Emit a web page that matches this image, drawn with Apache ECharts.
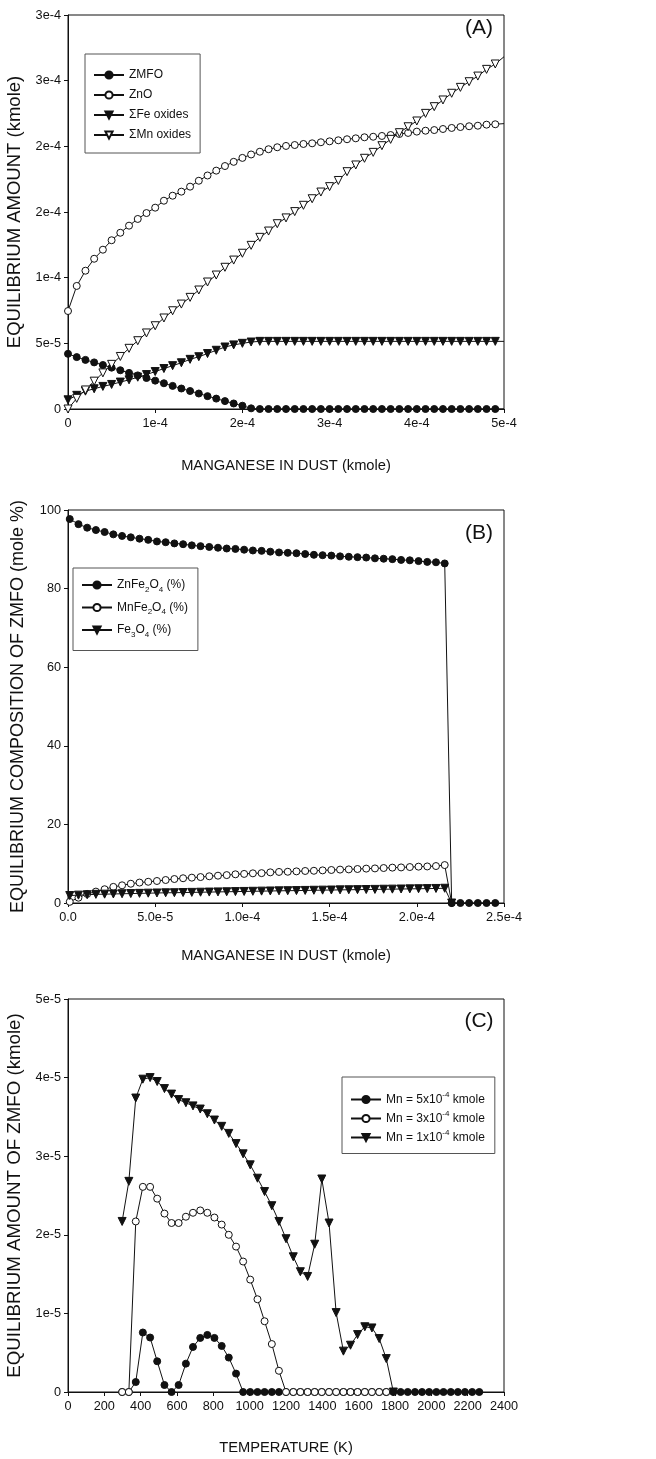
<!DOCTYPE html>
<html>
<head>
<meta charset="utf-8">
<script src="https://cdn.jsdelivr.net/npm/echarts@6/dist/echarts.min.js"></script>
<style>
html,body{margin:0;padding:0;background:#fff;}
#chart{width:656px;height:1459px;}
</style>
</head>
<body>
<div id="chart"></div>
<script>
// ---------- Panel A: equilibrium amounts vs Mn in dust ----------
const xA = [0,1e-5,2e-5,3e-5,4e-5,5e-5,6e-5,7e-5,8e-5,9e-5,1.0e-4,1.1e-4,1.2e-4,1.3e-4,1.4e-4,1.5e-4,1.6e-4,1.7e-4,1.8e-4,1.9e-4,2.0e-4,2.1e-4,2.2e-4,2.3e-4,2.4e-4,2.5e-4,2.6e-4,2.7e-4,2.8e-4,2.9e-4,3.0e-4,3.1e-4,3.2e-4,3.3e-4,3.4e-4,3.5e-4,3.6e-4,3.7e-4,3.8e-4,3.9e-4,4.0e-4,4.1e-4,4.2e-4,4.3e-4,4.4e-4,4.5e-4,4.6e-4,4.7e-4,4.8e-4,4.9e-4,5.0e-4];
const zmfoA = [4.2e-5,3.95e-5,3.74e-5,3.55e-5,3.35e-5,3.15e-5,2.95e-5,2.75e-5,2.56e-5,2.36e-5,2.16e-5,1.96e-5,1.76e-5,1.56e-5,1.37e-5,1.18e-5,9.8e-6,7.9e-6,6.0e-6,4.2e-6,2.5e-6,5e-7,0,0,0,0,0,0,0,0,0,0,0,0,0,0,0,0,0,0,0,0,0,0,0,0,0,0,0,0,0];
const znoA = [7.46e-5,9.37e-5,1.053e-4,1.144e-4,1.213e-4,1.285e-4,1.342e-4,1.396e-4,1.447e-4,1.492e-4,1.533e-4,1.586e-4,1.624e-4,1.655e-4,1.693e-4,1.738e-4,1.778e-4,1.815e-4,1.85e-4,1.882e-4,1.912e-4,1.938e-4,1.959e-4,1.978e-4,1.993e-4,2.003e-4,2.01e-4,2.018e-4,2.023e-4,2.031e-4,2.038e-4,2.046e-4,2.054e-4,2.061e-4,2.069e-4,2.073e-4,2.079e-4,2.086e-4,2.094e-4,2.102e-4,2.112e-4,2.119e-4,2.124e-4,2.132e-4,2.14e-4,2.147e-4,2.153e-4,2.157e-4,2.165e-4,2.168e-4,2.173e-4];
const feOxA = [7e-6,1.04e-5,1.36e-5,1.54e-5,1.72e-5,1.87e-5,2.05e-5,2.22e-5,2.42e-5,2.62e-5,2.85e-5,3.08e-5,3.3e-5,3.52e-5,3.78e-5,3.98e-5,4.22e-5,4.47e-5,4.72e-5,4.88e-5,5.0e-5,5.1e-5,5.15e-5,5.15e-5,5.15e-5,5.15e-5,5.15e-5,5.15e-5,5.15e-5,5.15e-5,5.15e-5,5.15e-5,5.15e-5,5.15e-5,5.15e-5,5.15e-5,5.15e-5,5.15e-5,5.15e-5,5.15e-5,5.15e-5,5.15e-5,5.15e-5,5.15e-5,5.15e-5,5.15e-5,5.15e-5,5.15e-5,5.15e-5,5.15e-5,5.15e-5];
const mnOxA = [0,8.1e-6,1.45e-5,2.12e-5,2.75e-5,3.4e-5,4.0e-5,4.62e-5,5.2e-5,5.79e-5,6.34e-5,6.93e-5,7.48e-5,7.99e-5,8.5e-5,9.06e-5,9.67e-5,1.02e-4,1.079e-4,1.134e-4,1.186e-4,1.246e-4,1.307e-4,1.355e-4,1.411e-4,1.455e-4,1.503e-4,1.551e-4,1.601e-4,1.652e-4,1.693e-4,1.74e-4,1.807e-4,1.858e-4,1.909e-4,1.954e-4,2.005e-4,2.053e-4,2.104e-4,2.149e-4,2.193e-4,2.251e-4,2.302e-4,2.353e-4,2.404e-4,2.449e-4,2.492e-4,2.535e-4,2.586e-4,2.627e-4,2.682e-4];
const xTickA = ['0','1e-4','2e-4','3e-4','4e-4','5e-4'];
const yTickA = ['0','5e-5','1e-4','2e-4','2e-4','3e-4','3e-4'];

// ---------- Panel B: composition of ZMFO ----------
const xB = [1e-6,6e-6,1.1e-5,1.6e-5,2.1e-5,2.6e-5,3.1e-5,3.6e-5,4.1e-5,4.6e-5,5.1e-5,5.6e-5,6.1e-5,6.6e-5,7.1e-5,7.6e-5,8.1e-5,8.6e-5,9.1e-5,9.6e-5,1.01e-4,1.06e-4,1.11e-4,1.16e-4,1.21e-4,1.26e-4,1.31e-4,1.36e-4,1.41e-4,1.46e-4,1.51e-4,1.56e-4,1.61e-4,1.66e-4,1.71e-4,1.76e-4,1.81e-4,1.86e-4,1.91e-4,1.96e-4,2.01e-4,2.06e-4,2.11e-4,2.16e-4,2.2e-4,2.25e-4,2.3e-4,2.35e-4,2.4e-4,2.45e-4];
const znFeB = [97.7,96.4,95.5,94.9,94.4,93.8,93.4,93.05,92.7,92.4,92.0,91.8,91.5,91.3,91.0,90.8,90.6,90.4,90.2,90.1,89.9,89.7,89.6,89.4,89.2,89.1,89.0,88.8,88.6,88.5,88.4,88.2,88.1,88.0,87.9,87.7,87.6,87.5,87.3,87.2,87.0,86.8,86.7,86.4,0,0,0,0,0,0];
const mnFeB = [0.3,1.35,2.3,2.9,3.5,4.1,4.5,4.9,5.2,5.4,5.6,5.85,6.1,6.3,6.45,6.6,6.8,6.95,7.1,7.3,7.4,7.55,7.6,7.8,7.9,7.95,8.05,8.15,8.2,8.3,8.4,8.5,8.55,8.65,8.75,8.8,8.9,9.0,9.05,9.15,9.25,9.3,9.4,9.65,0];
const fe3o4B = [1.9,2.0,2.1,2.2,2.25,2.3,2.35,2.4,2.45,2.5,2.55,2.6,2.62,2.66,2.7,2.74,2.78,2.82,2.86,2.9,2.94,2.98,3.02,3.06,3.1,3.13,3.16,3.2,3.24,3.27,3.3,3.34,3.37,3.4,3.43,3.46,3.5,3.53,3.56,3.6,3.63,3.66,3.7,3.75,0];
const xTickB = ['0.0','5.0e-5','1.0e-4','1.5e-4','2.0e-4','2.5e-4'];

// ---------- Panel C: ZMFO vs temperature ----------
const tempK = [298,335,373,412,452,491,531,570,609,649,688,728,767,806,846,885,925,964,1003,1043,1082,1122,1161,1200,1240,1279,1319,1358,1397,1437,1476,1516,1555,1594,1634,1673,1713,1752,1791,1831,1870,1910,1949,1988,2028,2067,2107,2146,2185,2225,2264];
const mn5C = [0,0,1.27e-6,7.57e-6,6.93e-6,3.91e-6,8.9e-7,0,8.9e-7,3.61e-6,5.73e-6,6.88e-6,7.26e-6,6.88e-6,5.86e-6,4.38e-6,2.34e-6,0,0,0,0,0,0,0,0,0,0,0,0,0,0,0,0,0,0,0,0,0,0,0,0,0,0,0,0,0,0,0,0,0,0];
const mn3C = [0,0,2.17e-5,2.61e-5,2.61e-5,2.46e-5,2.27e-5,2.15e-5,2.15e-5,2.23e-5,2.28e-5,2.31e-5,2.28e-5,2.22e-5,2.13e-5,2.0e-5,1.85e-5,1.66e-5,1.43e-5,1.18e-5,9.0e-6,6.1e-6,2.7e-6,0,0,0,0,0,0,0,0,0,0,0,0,0,0,0];
const mn1C = [2.17e-5,2.68e-5,3.74e-5,3.98e-5,4.0e-5,3.95e-5,3.86e-5,3.79e-5,3.72e-5,3.68e-5,3.64e-5,3.6e-5,3.54e-5,3.46e-5,3.38e-5,3.29e-5,3.16e-5,3.03e-5,2.89e-5,2.72e-5,2.55e-5,2.37e-5,2.17e-5,1.95e-5,1.72e-5,1.53e-5,1.47e-5,1.88e-5,2.71e-5,2.15e-5,1.01e-5,5.2e-6,5.95e-6,7.3e-6,8.3e-6,8.15e-6,6.8e-6,4.25e-6,0];
const yTickC = ['0','1e-5','2e-5','3e-5','4e-5','5e-5'];

// ---------- styling ----------
const FONT = "'Liberation Sans',Arial,Helvetica,sans-serif";
const BLACK = '#111';

function pairs(xs, ys, xmax){
  return ys.map((y,i)=> xs[i] >= xmax ? {value:[xs[i], y], symbolSize:0} : [xs[i], y]);
}

function lineSeries(name, xi, yi, xs, ys, kind, xmax, extra){
  const filled = kind === 'filledCircle' || kind === 'filledTri';
  const tri = kind === 'filledTri' || kind === 'openTri';
  return Object.assign({
    name, type:'line', xAxisIndex:xi, yAxisIndex:yi,
    data: pairs(xs, ys, xmax),
    symbol: tri ? 'triangle' : 'circle',
    symbolRotate: tri ? 180 : 0,
    symbolSize: tri ? 8 : 7,
    showAllSymbol: true,
    lineStyle:{color:BLACK, width:1},
    itemStyle:{color: filled ? BLACK : '#fff', borderColor:BLACK, borderWidth:1},
    emphasis:{disabled:true},
    clip:true
  }, extra||{});
}

function xAxisCfg(gi, min, max, interval, fmt, name, gap){
  return {
    gridIndex:gi, type:'value', min, max, interval,
    name, nameLocation:'middle', nameGap:gap,
    nameTextStyle:{fontFamily:FONT, fontSize:14.7, color:BLACK},
    axisLine:{show:true, onZero:false, lineStyle:{color:BLACK, width:1}},
    axisTick:{show:true, inside:false, length:4, lineStyle:{color:BLACK}},
    axisLabel:{fontFamily:FONT, fontSize:12.7, color:BLACK, margin:8, formatter:fmt},
    splitLine:{show:false}
  };
}
function yAxisCfg(gi, min, max, interval, fmt, name, gap, nsize){
  return {
    gridIndex:gi, type:'value', min, max, interval,
    name, nameLocation:'middle', nameGap:gap,
    nameTextStyle:{fontFamily:FONT, fontSize:nsize, color:BLACK},
    axisLine:{show:true, onZero:false, lineStyle:{color:BLACK, width:1}},
    axisTick:{show:true, inside:false, length:4, lineStyle:{color:BLACK}},
    axisLabel:{fontFamily:FONT, fontSize:12.7, color:BLACK, margin:7, formatter:fmt},
    splitLine:{show:false}
  };
}

const legendBase = {
  orient:'vertical', itemWidth:30, itemHeight:9,
  borderColor:'#555', borderWidth:1, backgroundColor:'#fff',
  selectedMode:false,
  textStyle:{fontFamily:FONT, fontSize:12, color:BLACK, lineHeight:14}
};

const richSub = {
  n:{fontFamily:FONT, fontSize:12, color:BLACK, lineHeight:17, verticalAlign:'middle'},
  s:{fontFamily:FONT, fontSize:8, color:BLACK, lineHeight:17, verticalAlign:'bottom'},
  u:{fontFamily:FONT, fontSize:8, color:BLACK, lineHeight:17, verticalAlign:'top'}
};
const legendLabelsB = {
  'ZnFe2O4 (%)':'{n|ZnFe}{s|2}{n|O}{s|4}{n| (%)}',
  'MnFe2O4 (%)':'{n|MnFe}{s|2}{n|O}{s|4}{n| (%)}',
  'Fe3O4 (%)':'{n|Fe}{s|3}{n|O}{s|4}{n| (%)}'
};
const legendLabelsC = {
  'Mn = 5x10-4 kmole':'{n|Mn = 5x10}{u|-4}{n| kmole}',
  'Mn = 3x10-4 kmole':'{n|Mn = 3x10}{u|-4}{n| kmole}',
  'Mn = 1x10-4 kmole':'{n|Mn = 1x10}{u|-4}{n| kmole}'
};

const gridBase = {left:68, right:152, show:true, borderColor:BLACK, borderWidth:1, backgroundColor:'transparent', containLabel:false, outerBoundsMode:'none'};

const option = {
  animation:false,
  backgroundColor:'#fff',
  grid:[
    Object.assign({}, gridBase, {top:15, height:394}),
    Object.assign({}, gridBase, {top:510, height:393}),
    Object.assign({}, gridBase, {top:999, height:393})
  ],
  xAxis:[
    xAxisCfg(0, 0, 5e-4, 1e-4, v=>xTickA[Math.round(v/1e-4)], 'MANGANESE IN DUST (kmole)', 49),
    xAxisCfg(1, 0, 2.5e-4, 5e-5, v=>xTickB[Math.round(v/5e-5)], 'MANGANESE IN DUST (kmole)', 45),
    xAxisCfg(2, 0, 2400, 200, v=>String(v), 'TEMPERATURE (K)', 48)
  ],
  yAxis:[
    yAxisCfg(0, 0, 3e-4, 5e-5, v=>yTickA[Math.round(v/5e-5)], 'EQUILIBRIUM AMOUNT (kmole)', 41, 18.5),
    yAxisCfg(1, 0, 100, 20, v=>String(v), 'EQUILIBRIUM COMPOSITION OF ZMFO (mole %)', 41, 18),
    yAxisCfg(2, 0, 5e-5, 1e-5, v=>yTickC[Math.round(v/1e-5)], 'EQUILIBRIUM AMOUNT OF ZMFO (kmole)', 41, 18.7)
  ],
  legend:[
    Object.assign({}, legendBase, {
      left:85, top:54, padding:[14,9,11,8], itemGap:6,
      data:['ZMFO','ZnO','\u03A3Fe oxides','\u03A3Mn oxides']
    }),
    Object.assign({}, legendBase, {
      left:73, top:568, padding:[11,10,12,8], itemGap:8,
      data:['ZnFe2O4 (%)','MnFe2O4 (%)','Fe3O4 (%)'],
      formatter:n=>legendLabelsB[n],
      textStyle:{rich:richSub}
    }),
    Object.assign({}, legendBase, {
      left:342, top:1077, padding:[14,10,10,8], itemGap:4.5,
      data:['Mn = 5x10-4 kmole','Mn = 3x10-4 kmole','Mn = 1x10-4 kmole'],
      formatter:n=>legendLabelsC[n],
      textStyle:{rich:richSub}
    })
  ],
  graphic:[
    {type:'text', x:479, y:28, style:{text:'(A)', fontFamily:FONT, fontSize:21, fill:BLACK, align:'center', verticalAlign:'middle'}},
    {type:'text', x:479, y:533, style:{text:'(B)', fontFamily:FONT, fontSize:21, fill:BLACK, align:'center', verticalAlign:'middle'}},
    {type:'text', x:479, y:1021, style:{text:'(C)', fontFamily:FONT, fontSize:21, fill:BLACK, align:'center', verticalAlign:'middle'}}
  ],
  series:[
    lineSeries('ZMFO', 0, 0, xA, zmfoA, 'filledCircle', 5e-4),
    lineSeries('ZnO', 0, 0, xA, znoA, 'openCircle', 5e-4),
    lineSeries('\u03A3Fe oxides', 0, 0, xA, feOxA, 'filledTri', 5e-4),
    lineSeries('\u03A3Mn oxides', 0, 0, xA, mnOxA, 'openTri', 5e-4),

    lineSeries('MnFe2O4 (%)', 1, 1, xB, mnFeB, 'openCircle', 1),
    lineSeries('Fe3O4 (%)', 1, 1, xB, fe3o4B, 'filledTri', 1),
    lineSeries('ZnFe2O4 (%)', 1, 1, xB, znFeB, 'filledCircle', 1, {z:3}),

    lineSeries('Mn = 5x10-4 kmole', 2, 2, tempK, mn5C, 'filledCircle', 1e9),
    lineSeries('Mn = 3x10-4 kmole', 2, 2, tempK, mn3C, 'openCircle', 1e9),
    lineSeries('Mn = 1x10-4 kmole', 2, 2, tempK, mn1C, 'filledTri', 1e9)
  ]
};

const chart = echarts.init(document.getElementById('chart'), null, {renderer:'canvas'});
chart.setOption(option);
</script>
</body>
</html>
